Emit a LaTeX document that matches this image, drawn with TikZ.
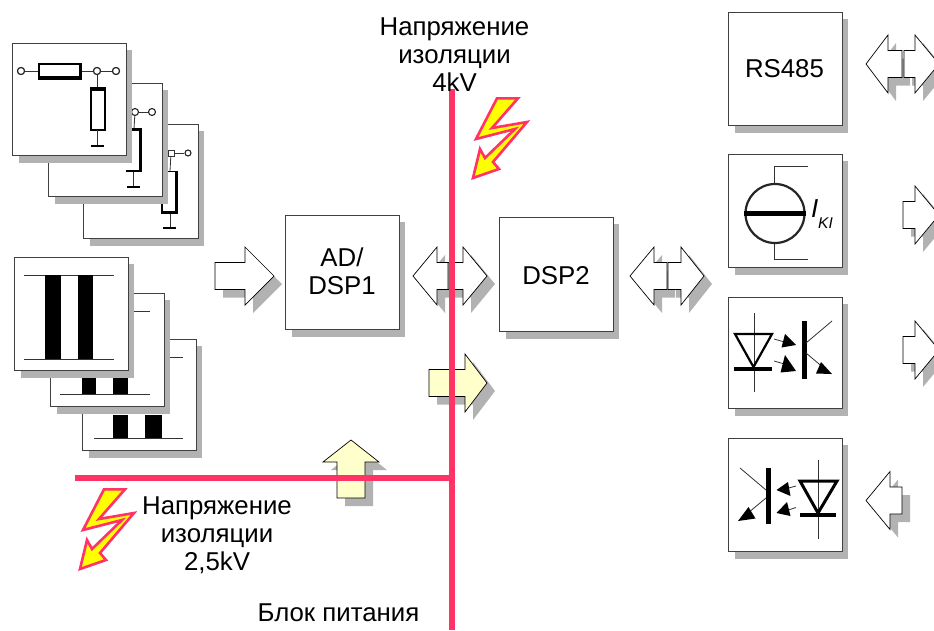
\documentclass[tikz,border=0pt]{standalone}
\usepackage{fontspec}
\setmainfont{Liberation Sans}
\definecolor{shade}{HTML}{B2B2B2}
\definecolor{isol}{HTML}{FF3366}
\definecolor{boltfill}{HTML}{FFFF00}
\definecolor{pale}{HTML}{FFFFCC}
\tikzset{
  x=1pt,y=-1pt,
  card/.style={draw=black!75,line width=0.9pt,fill=white},
  shadowfill/.style={fill=shade,draw=none},
  fat/.style={line width=#1,draw=black},
  thinw/.style={draw=black!80,line width=0.8pt},
  arrowbody/.style={draw=black,line width=0.7pt,fill=#1},
  isoline/.style={draw=isol,line width=6pt},
  boltshape/.style={draw=isol,line width=2.6pt,fill=boltfill,line join=miter,miter limit=4},
  lbl/.style={font=\fontsize{25.8}{28}\selectfont,align=center,inner sep=0pt,text=black},
  pin/.style={draw=black!85,fill=white,line width=1.1pt,circle,inner sep=0pt,minimum size=7pt},
  pinsq/.style={draw=black!80,fill=white,line width=0.8pt,inner sep=0pt,minimum size=6pt},
}
% card: name, x1,y1,x2,y2
\newcommand{\mycard}[5]{%
  \fill[shadowfill] (#2+7,#3+7) rectangle (#4+6,#5+8);
  \node[inner sep=0pt,minimum size=0pt] (#1) at ({(#2+#4)/2},{(#3+#5)/2}) {};
  \draw[card] (#2,#3) rectangle (#4,#5);
}
% block arrow outline: x0, xbase, xtip, ycentre
\newcommand{\pathR}[4]{(#1,#4-13.5) -- (#2,#4-13.5) -- (#2,#4-29) -- (#3,#4) -- (#2,#4+29) -- (#2,#4+13.5) -- (#1,#4+13.5) -- cycle}
\newcommand{\arrS}[4]{\fill[shadowfill] \pathR{#1+8}{#2+8}{#3+8}{#4+8};}
\newcommand{\arrB}[5][white]{\draw[arrowbody=#1] \pathR{#2}{#3}{#4}{#5};}
\newcommand{\boltpath}{(25,1.3) -- (46,1.3) -- (20,31) -- (55,25) -- (21,65) -- (27,72) -- (1,81) -- (8,52) -- (13,61) -- (43,32) -- (4,42) -- cycle}
\begin{document}
\begin{tikzpicture}
\useasboundingbox (0,0) rectangle (934,630);
\clip (0,0) rectangle (934,630);
% --- resistor stack
\mycard{rc}{83}{124}{198}{238}
\node[pinsq] (rcp1) at (171,153) {};
\node[pin,minimum size=6pt] (rcp2) at (188,153) {};
\draw[thinw] (rcp1) -- (rcp2);
\draw[thinw] (rcp1) -- (170,171);
\draw[line width=0.9pt] (161,171) -- (177,171);
\draw[fat=2.6pt] (176.5,171) -- (176.5,214);
\draw[fat=2.6pt] (161,212.5) -- (177,212.5);
\draw[fat=2.6pt] (162,204) -- (162,214);
\draw[thinw] (170,214) -- (170,228);
\draw[fat=2.6pt] (163,228) -- (176,228);
\mycard{rb}{48}{83}{162}{196}
\node[pin] (rbp1) at (135,112) {};
\node[pin] (rbp2) at (152,112) {};
\draw[thinw] (rbp1) -- (rbp2);
\draw[thinw] (rbp1) -- (134,129);
\draw[fat=2.6pt] (127,129.5) -- (142,129.5);
\draw[fat=2.6pt] (140.5,129) -- (140.5,172);
\draw[fat=2.6pt] (126,171) -- (142,171);
\draw[thinw] (133,172) -- (133,187);
\draw[fat=2.6pt] (127,187) -- (140,187);
\mycard{ra}{12}{43}{126}{155}
\node[pin] (rap1) at (21,71) {};
\node[pin] (rap2) at (97,71) {};
\node[pin] (rap3) at (116,71) {};
\draw[thinw] (rap1) -- (rap2) -- (rap3);
\foreach \n in {rap1,rap2,rap3}{\node[pin] at (\n) {};}
\draw[fat=1.4pt,fill=white] (39,64) rectangle (81,77);
\draw[fat=3pt] (38,78) -- (82,78);
\draw[fat=3pt] (80.5,63) -- (80.5,79);
\draw[fat=2pt] (38,63.5) -- (82,63.5);
\draw[thinw] (rap2) -- (97,87);
\draw[fat=1.4pt,fill=white] (91,88) rectangle (105,130);
\draw[fat=4pt] (90,89) -- (106,89);
\draw[thinw] (97,130) -- (97,146);
\draw[fat=2.6pt] (91,146) -- (104,146);
% --- transformer stack
\mycard{tc}{82}{339}{196}{450}
\draw[thinw] (170,357) -- (183,357);
\draw[thinw] (94,438) -- (183,438);
\fill (113,415) rectangle (128,438);
\fill (145,415) rectangle (162,438);
\mycard{tb}{50}{293}{164}{406}
\draw[thinw] (134,311) -- (150,311);
\draw[thinw] (60,394) -- (150,394);
\fill (82,378) rectangle (96,394);
\fill (113,378) rectangle (128,394);
\mycard{ta}{14}{257}{128}{370}
\draw[thinw] (24,275) -- (114,275);
\draw[thinw] (24,359) -- (114,359);
\fill (45,275) rectangle (60.5,359);
\fill (78,275) rectangle (92.5,359);
% --- processors
\mycard{dsp1}{285}{215}{399}{329}
\node[lbl] (dsp1t) at (342,271.5) {AD/\\DSP1};
\mycard{dsp2}{499}{217}{613}{331}
\node[lbl] (dsp2t) at (556,276) {DSP2};
% --- interface cards
\mycard{rs}{728}{12}{842}{125}
\node[lbl] (rst) at (784.5,69) {RS485};
\mycard{cs}{728}{154}{842}{267}
\draw[thinw] (808,166) -- (774,166) -- (774,184);
\draw[thinw] (808,259) -- (774,259) -- (774,243);
\node[circle,draw=black!85,line width=2.2pt,minimum size=59pt,inner sep=0pt] (csc) at (775,213.5) {};
\draw[fat=5pt] (csc.west) -- (csc.east);
\node[inner sep=0pt,anchor=west,font=\fontsize{26}{26}\selectfont\itshape] (csi) at (811,209) {I};
\node[inner sep=0pt,anchor=west,font=\fontsize{15.5}{15.5}\selectfont\itshape] (csk) at (818,223) {KI};
% opto 1
\mycard{oa}{728}{297}{842}{408}
\draw[thinw] (754,313) -- (754,392);
\draw[fat=2.2pt,line join=miter] (735,334) -- (772,334) -- (753.5,367) -- cycle;
\draw[fat=4pt] (734,369) -- (772,369);
\draw[fat=5.5pt] (804.5,321) -- (804.5,379);
\draw[thinw] (806,343) -- (832,321);
\draw[thinw] (806,353) -- (825,369);
\fill (821,362) -- (832,374) -- (816,373.5) -- cycle;
\draw[thinw] (774,339) -- (788,343);
\fill (785,334) -- (796,345) -- (781.5,347.5) -- cycle;
\draw[thinw] (774,361) -- (788,365);
\fill (785,355) -- (796,371) -- (780.5,372.5) -- cycle;
% opto 2
\mycard{ob}{728}{438}{842}{551}
\draw[thinw] (818,460) -- (818,539);
\draw[fat=3pt,line join=miter] (800,481) -- (837,481) -- (818,513) -- cycle;
\draw[fat=4.5pt] (800,515) -- (836,515);
\draw[fat=5.5pt] (768.5,468) -- (768.5,524);
\draw[thinw] (740,468) -- (766,490);
\draw[thinw] (766,498) -- (748,513);
\fill (748.5,507) -- (755.5,518.5) -- (738,521) -- cycle;
\draw[thinw] (796,486) -- (785,489);
\fill (788,482) -- (776.5,490) -- (790.5,496) -- cycle;
\draw[thinw] (796,507.5) -- (785,511);
\fill (787,502) -- (776.5,513) -- (790.5,516) -- cycle;
% --- block arrows: shadows first, bodies on top
\arrS{215}{245}{274}{276}
\arrB{215}{245}{274}{276}
\arrS{448}{463}{487}{276}
\arrS{448}{437}{413}{276}
\arrB{448}{463}{487}{276}
\arrB{448}{437}{413}{276}
\arrS{429}{465}{487}{383}
\arrB[pale]{429}{465}{487}{383}
\arrS{668}{681}{704}{276}
\arrS{667}{654}{630}{276}
\arrB{668}{681}{704}{276}
\arrB{667}{654}{630}{276}
\arrS{904}{915}{939}{64}
\arrS{902}{888}{866}{64}
\arrB{904}{915}{939}{64}
\arrB{902}{888}{866}{64}
\arrS{903}{915}{939}{215}
\arrB{903}{915}{939}{215}
\arrS{903}{915}{939}{350}
\arrB{903}{915}{939}{350}
\arrS{902}{890}{866}{500.5}
\arrB{902}{890}{866}{500.5}
% up arrow
\fill[shadowfill] (345,506) -- (373,506) -- (373,470) -- (387,470) -- (359,448) -- (331,470) -- (345,470) -- cycle;
\draw[arrowbody=pale] (337,498) -- (365,498) -- (365,462) -- (379,462) -- (351,440) -- (323,462) -- (337,462) -- cycle;
% --- isolation lines
\coordinate (vt) at (452,89);
\coordinate (vb) at (452,630);
\coordinate (hl) at (75,478);
\coordinate (hr) at (452,478);
\draw[isoline] (vt) -- (vb);
\draw[isoline,line width=5.5pt] (hl) -- (hr);
% --- bolts
\begin{scope}[shift={(472,97)}]\draw[boltshape] \boltpath;\end{scope}
\begin{scope}[shift={(79,488)}]\draw[boltshape] \boltpath;\end{scope}
% --- labels
\node[lbl] (l4k) at (454.5,54.5) {Напряжение\\изоляции\\4kV};
\node[lbl] (l25) at (217,535.5) {Напряжение\\изоляции\\2,5kV};
\node[lbl] (lpw) at (338.5,612.5) {Блок питания};
\end{tikzpicture}
\end{document}
